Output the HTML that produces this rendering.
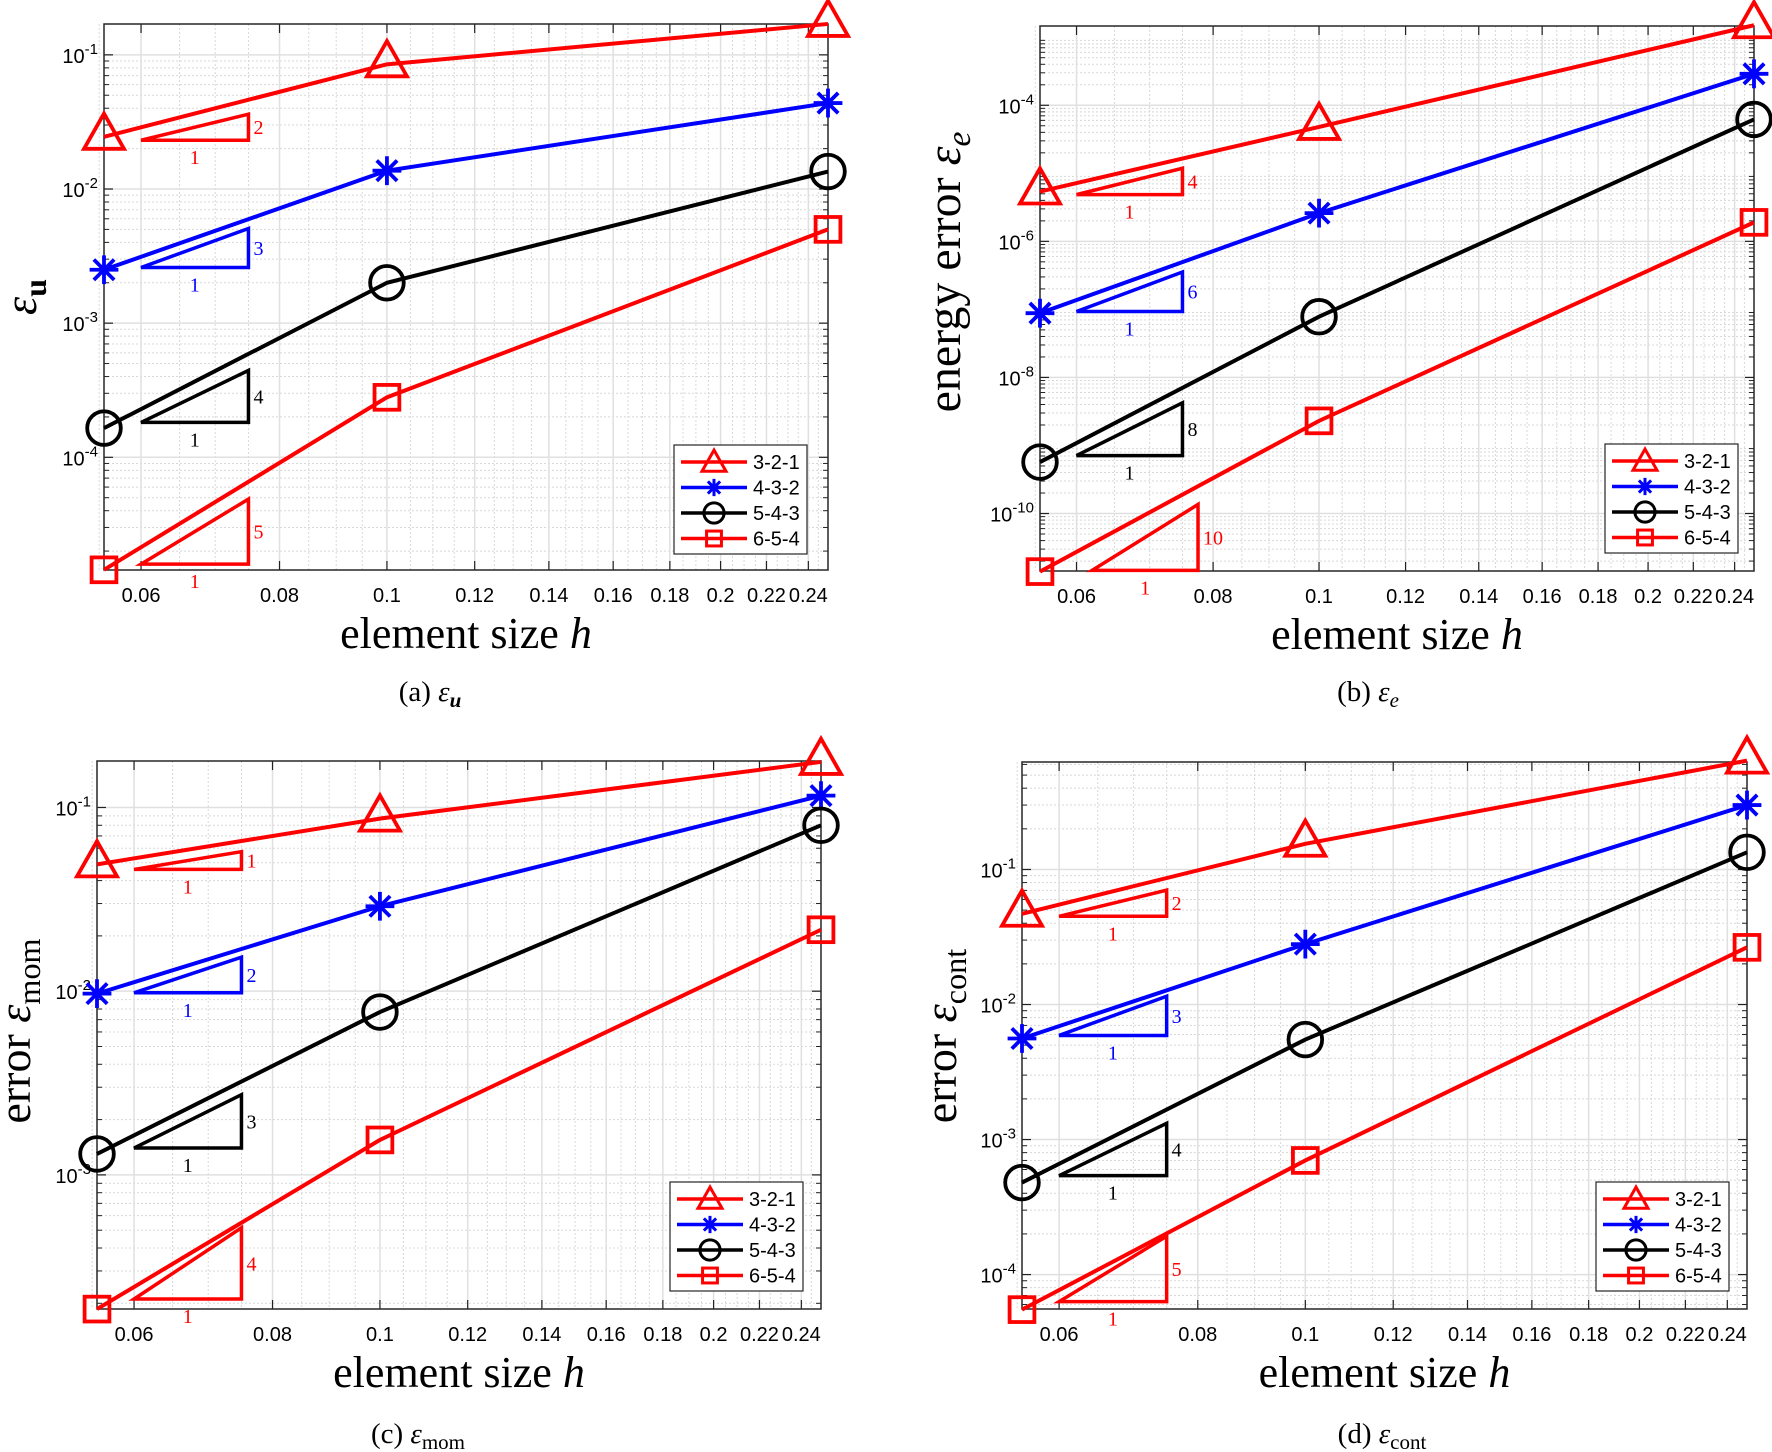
<!DOCTYPE html>
<html><head><meta charset="utf-8">
<style>
html,body{margin:0;padding:0;background:#fff;}
svg{display:block;}
.tick{font-family:"Liberation Sans",sans-serif;font-size:20px;fill:#000;}
.ser{font-family:"Liberation Serif",serif;fill:#000;}
.leg{font-family:"Liberation Sans",sans-serif;font-size:20px;fill:#000;}
</style></head>
<body>
<svg id="fig" xmlns="http://www.w3.org/2000/svg" width="1772" height="1452" viewBox="0 0 1772 1452">
<rect width="1772" height="1452" fill="#fff"/>
</svg>
<script>
// ---- data ----
const hValues = [1/18, 1/10, 1/4];
const xTickValues = [0.06,0.08,0.1,0.12,0.14,0.16,0.18,0.2,0.22,0.24];
const xTickLabels = ['0.06','0.08','0.1','0.12','0.14','0.16','0.18','0.2','0.22','0.24'];
const seriesNames = ['3-2-1','4-3-2','5-4-3','6-5-4'];
// panel (a) eps_u
const aSeries321 = [0.0245, 0.085, 0.17];
const aSeries432 = [0.0025, 0.0137, 0.0437];
const aSeries543 = [1.65e-4, 2.0e-3, 0.0135];
const aSeries654 = [1.45e-5, 2.8e-4, 5.0e-3];
const aSlopeOrders = [2,3,4,5];
const aSlopeBases = [0.0231, 0.0026, 1.82e-4, 1.6e-5];
const aYTicks = [-4,-3,-2,-1];
// panel (b) eps_e
const bSeries321 = [5.4e-6, 4.8e-5, 1.5e-3];
const bSeries432 = [8.8e-8, 2.6e-6, 2.9e-4];
const bSeries543 = [5.7e-10, 7.8e-8, 6.2e-5];
const bSeries654 = [1.4e-11, 2.3e-9, 1.9e-6];
const bSlopeOrders = [4,6,8,10];
const bSlopeBases = [4.86e-6, 9.3e-8, 7.1e-10, 1.46e-11];
const bYTicks = [-10,-8,-6,-4];
// panel (c) eps_mom
const cSeries321 = [0.049, 0.087, 0.177];
const cSeries432 = [9.7e-3, 0.029, 0.116];
const cSeries543 = [1.3e-3, 7.7e-3, 0.080];
const cSeries654 = [1.86e-4, 1.55e-3, 0.0216];
const cSlopeOrders = [1,2,3,4];
const cSlopeBases = [0.046, 9.8e-3, 1.4e-3, 2.11e-4];
const cYTicks = [-3,-2,-1];
// panel (d) eps_cont
const dSeries321 = [0.047, 0.155, 0.64];
const dSeries432 = [0.0056, 0.028, 0.30];
const dSeries543 = [4.8e-4, 5.5e-3, 0.134];
const dSeries654 = [5.5e-5, 7.0e-4, 0.0265];
const dSlopeOrders = [2,3,4,5];
const dSlopeBases = [0.045, 5.9e-3, 5.4e-4, 6.3e-5];
const dYTicks = [-4,-3,-2,-1];

const NS = 'http://www.w3.org/2000/svg';
const fig = document.getElementById('fig');
const colors = ['#ff0000','#0000ff','#000000','#ff0000'];
const markers = ['tri','star','circ','sq'];

function mk(tag, attrs, parent){
  const e = document.createElementNS(NS, tag);
  for (const k in attrs) e.setAttribute(k, attrs[k]);
  (parent||fig).appendChild(e);
  return e;
}
function drawMarker(g, type, x, y, s, col, sw){
  let m;
  if (type==='tri'){
    m = mk('polygon',{points:`${x},${y-s*0.58} ${x-s*0.5},${y+s*0.3} ${x+s*0.5},${y+s*0.3}`,fill:'none',stroke:col,'stroke-width':sw},g);
  } else if (type==='circ'){
    m = mk('circle',{cx:x,cy:y,r:s*0.42,fill:'none',stroke:col,'stroke-width':sw},g);
  } else if (type==='sq'){
    m = mk('rect',{x:x-s*0.31,y:y-s*0.31,width:s*0.62,height:s*0.62,fill:'none',stroke:col,'stroke-width':sw},g);
  } else {
    const r=s*0.36; let d='';
    for (let i=0;i<4;i++){const a=i*Math.PI/4; d+=`M${x-r*Math.cos(a)},${y-r*Math.sin(a)}L${x+r*Math.cos(a)},${y+r*Math.sin(a)}`;}
    m = mk('path',{d:d,stroke:col,'stroke-width':sw,fill:'none'},g);
  }
  
  
}

function panel(p){
  const g = mk('g',{});
  
  
  const L=p.box[0],T=p.box[1],R=p.box[2],B=p.box[3];
  const xmin=Math.log(1/18), xmax=Math.log(1/4);
  const X = v => L + (Math.log(v)-xmin)/(xmax-xmin)*(R-L);
  const Y = v => B - (Math.log10(v)-p.ylim[0])/(p.ylim[1]-p.ylim[0])*(B-T);
  const grid = mk('g',{},g);
  
  
  for (let v=0.055; v<=0.2501; v+=0.005){
    const x=X(v); mk('line',{x1:x,y1:T,x2:x,y2:B,stroke:'#d8d8d8','stroke-width':1,'stroke-dasharray':'2,2'},grid);
  }
  for (let e=Math.floor(p.ylim[0]); e<=Math.ceil(p.ylim[1]); e++){
    for (let k=2;k<=9;k++){
      const v=k*Math.pow(10,e); const lv=Math.log10(v);
      if (lv<p.ylim[0]||lv>p.ylim[1]) continue;
      const y=Y(v); mk('line',{x1:L,y1:y,x2:R,y2:y,stroke:'#d8d8d8','stroke-width':1,'stroke-dasharray':'2,2'},grid);
      mk('line',{x1:L,y1:y,x2:L+5,y2:y,stroke:'#222','stroke-width':1},grid);
      mk('line',{x1:R,y1:y,x2:R-5,y2:y,stroke:'#222','stroke-width':1},grid);
    }
    if (p.oddMinor){
      const v=Math.pow(10,e); const lv=Math.log10(v);
      if (lv>=p.ylim[0]&&lv<=p.ylim[1]){const y=Y(v); mk('line',{x1:L,y1:y,x2:R,y2:y,stroke:'#d0d0d0','stroke-width':1.5},grid);}
    }
  }
  xTickValues.forEach((v,i)=>{
    const x=X(v);
    mk('line',{x1:x,y1:T,x2:x,y2:B,stroke:'#e0e0e0','stroke-width':1.5},grid);
    mk('line',{x1:x,y1:B,x2:x,y2:B-9,stroke:'#222','stroke-width':1.2},grid);
    mk('line',{x1:x,y1:T,x2:x,y2:T+9,stroke:'#222','stroke-width':1.2},grid);
    const t=mk('text',{x:x,y:B+32,'text-anchor':'middle',class:'tick'},g);
    t.textContent=xTickLabels[i];
    
    
  });
  p.yticks.forEach(e=>{
    const y=Y(Math.pow(10,e));
    mk('line',{x1:L,y1:y,x2:R,y2:y,stroke:'#e0e0e0','stroke-width':1.5},grid);
    mk('line',{x1:L,y1:y,x2:L+9,y2:y,stroke:'#222','stroke-width':1.2},grid);
    mk('line',{x1:R,y1:y,x2:R-9,y2:y,stroke:'#222','stroke-width':1.2},grid);
    const t=mk('text',{x:L-6,y:y+8,'text-anchor':'end',class:'tick'},g);
    
    
    const a=mk('tspan',{},t); a.textContent='10';
    const b=mk('tspan',{dy:-9,'font-size':15},t); b.textContent='-'+(-e);
  });
  const ax=mk('rect',{x:L,y:T,width:R-L,height:B-T,fill:'none',stroke:'#262626','stroke-width':1.5},g);
  
  
  p.orders.forEach((o,i)=>{
    const col=colors[i];
    const x0=p.triX[i][0], x1=p.triX[i][1];
    const yb=Y(p.bases[i]), yt=Y(p.bases[i]*Math.pow(x1/x0,o));
    const tri=mk('polygon',{points:`${X(x0)},${yb} ${X(x1)},${yb} ${X(x1)},${yt}`,fill:'none',stroke:col,'stroke-width':3.5},g);
    
    
    const t1=mk('text',{x:X(x1)+5,y:(yb+yt)/2+7,class:'ser','font-size':20,fill:col},g);
    t1.textContent=String(o); t1.style.fill=col;
    
    
    const t2=mk('text',{x:(X(x0)+X(x1))/2,y:yb+24,'text-anchor':'middle',class:'ser','font-size':20},g);
    t2.textContent='1'; t2.style.fill=col;
    
    
  });
  p.series.forEach((s,i)=>{
    const sg=mk('g',{},g);
    
    
    const pts=hValues.map((h,j)=>X(h)+','+Y(s[j])).join(' ');
    mk('polyline',{points:pts,fill:'none',stroke:colors[i],'stroke-width':4},sg);
    hValues.forEach((h,j)=>drawMarker(sg,markers[i],X(h),Y(s[j]),40,colors[i],3.8));
  });
  const lg=mk('g',{},g);
  
  
  const lx=p.leg[0], ly=p.leg[1];
  mk('rect',{x:lx,y:ly,width:133,height:109,fill:'#fff',stroke:'#262626','stroke-width':1.2},lg);
  seriesNames.forEach((n,i)=>{
    const e=mk('g',{},lg);
    
    
    const y=ly+17+i*25.5;
    mk('line',{x1:lx+7,y1:y,x2:lx+73,y2:y,stroke:colors[i],'stroke-width':3.5},e);
    drawMarker(e,markers[i],lx+40,y+(markers[i]==='tri'?2:0),24,colors[i],3);
    const t=mk('text',{x:lx+79,y:y+7,class:'leg'},e); t.textContent=n;
  });
  const xl=mk('text',{x:(L+R)/2,y:B+78,'text-anchor':'middle',class:'ser','font-size':44},g);
  
  
  const xa=mk('tspan',{},xl); xa.textContent='element size ';
  const xb=mk('tspan',{'font-style':'italic'},xl); xb.textContent='h';
  const yl=mk('text',{x:0,y:0,'text-anchor':'middle',class:'ser','font-size':p.ylabFs||44,transform:`translate(${p.ylab[0]},${p.ylab[1]}) rotate(-90)`},g);
  
  
  if (p.ylabPre){const q=mk('tspan',{},yl); q.textContent=p.ylabPre;}
  const ep=mk('tspan',{'font-style':'italic'},yl); ep.textContent='ε';
  const sb=mk('tspan',{dy:10,'font-size':(p.ylabFs||44)*0.7,'font-weight':p.subBold?'bold':'normal','font-style':p.subItalic?'italic':'normal'},yl); sb.textContent=p.sub;
  const cp=mk('text',{x:p.cap[0],y:p.cap[1],'text-anchor':'middle',class:'ser','font-size':29},g);
  
  
  const c1=mk('tspan',{},cp); c1.textContent=p.capLetter+' ';
  const c2=mk('tspan',{'font-style':'italic'},cp); c2.textContent='ε';
  const c3=mk('tspan',{dy:6,'font-size':21,'font-weight':p.capSubBold?'bold':'normal','font-style':p.capSubItalic?'italic':'normal'},cp); c3.textContent=p.sub;
}

const std=[[0.06,0.075],[0.06,0.075],[0.06,0.075],[0.06,0.075]];
panel({id:'panel-a',box:[104,24,828,570],ylim:[-4.84,-0.77],yticks:aYTicks,
  series:[aSeries321,aSeries432,aSeries543,aSeries654],orders:aSlopeOrders,bases:aSlopeBases,triX:std,
  leg:[674,445],ylab:[36,297],sub:'u',subBold:true,ylabFs:46,cap:[430,701],capLetter:'(a)',capSubBold:true,capSubItalic:true});
panel({id:'panel-b',box:[1040,26,1754,571],ylim:[-10.845,-2.835],yticks:bYTicks,
  series:[bSeries321,bSeries432,bSeries543,bSeries654],orders:bSlopeOrders,bases:bSlopeBases,
  triX:[[0.06,0.075],[0.06,0.075],[0.06,0.075],[0.062,0.0775]],
  leg:[1605,444],ylab:[960,272],ylabFs:48,ylabPre:'energy error ',sub:'e',subItalic:true,cap:[1368,701],capLetter:'(b)',capSubItalic:true});
panel({id:'panel-c',box:[97,761,821,1309],ylim:[-3.73,-0.747],yticks:cYTicks,
  series:[cSeries321,cSeries432,cSeries543,cSeries654],orders:cSlopeOrders,bases:cSlopeBases,triX:std,
  leg:[670,1182],ylab:[30,1031],ylabFs:46,ylabPre:'error ',sub:'mom',cap:[418,1443],capLetter:'(c)'});
panel({id:'panel-d',box:[1022,762,1747,1309],ylim:[-4.255,-0.204],yticks:dYTicks,
  series:[dSeries321,dSeries432,dSeries543,dSeries654],orders:dSlopeOrders,bases:dSlopeBases,triX:std,
  leg:[1596,1182],ylab:[956,1036],ylabFs:46,ylabPre:'error ',sub:'cont',cap:[1382,1443],capLetter:'(d)'});
</script>
</body></html>
